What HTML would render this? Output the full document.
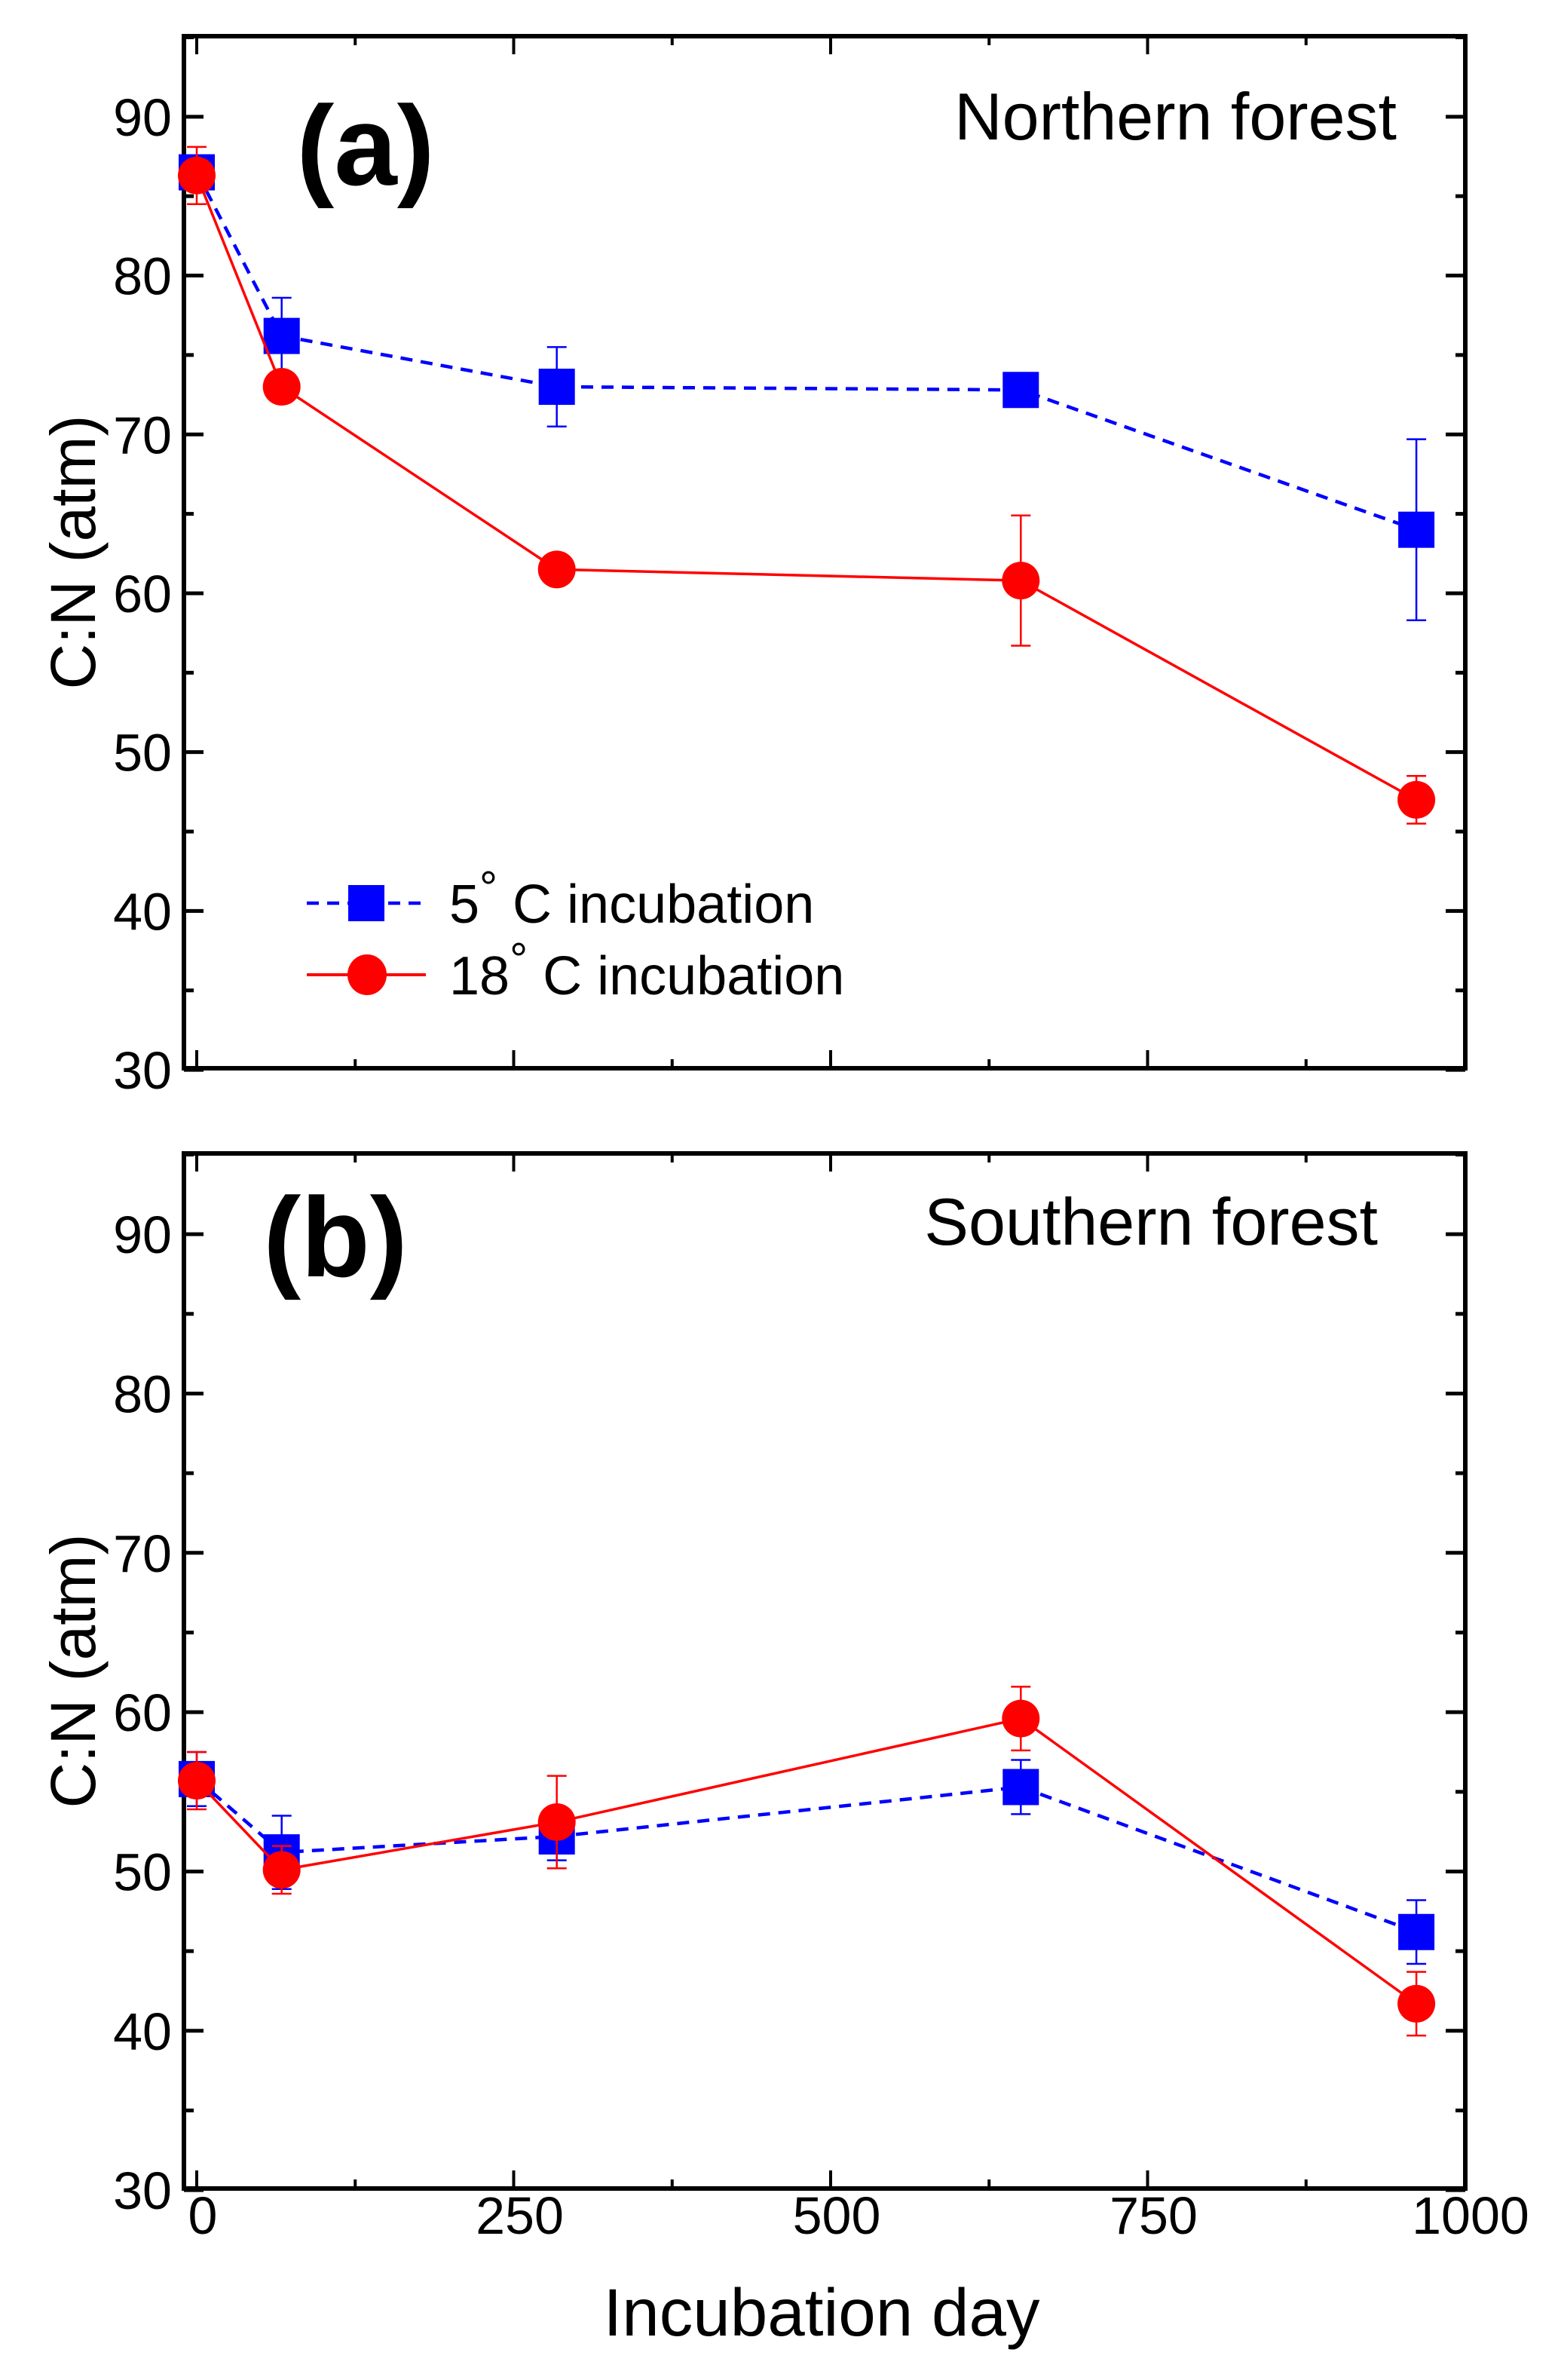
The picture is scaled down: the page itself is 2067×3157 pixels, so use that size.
<!DOCTYPE html>
<html><head><meta charset="utf-8"><style>
html,body{margin:0;padding:0;background:#fff;}
svg{display:block;font-family:"Liberation Sans",Arial,sans-serif;}
</style></head><body>
<svg id="chart" width="2067" height="3157" viewBox="0 0 2067 3157" xmlns="http://www.w3.org/2000/svg">
<g id="root"></g>
</svg>
<script>
const days = [0, 67, 284, 650, 962];
const northCold = [86.5, 76.2, 73.0, 72.8, 64.0];
const northColdErr = [0.8, 2.4, 2.5, 0.5, 5.7];
const northWarm = [86.3, 73.0, 61.5, 60.8, 47.0];
const northWarmErr = [1.8, 0.5, 0.5, 4.1, 1.5];
const southCold = [55.8, 51.2, 52.2, 55.3, 46.2];
const southColdErr = [1.7, 2.3, 1.5, 1.7, 2.0];
const southWarm = [55.7, 50.1, 53.1, 59.6, 41.7];
const southWarmErr = [1.8, 1.5, 2.9, 2.0, 2.0];
const yTicks = [30, 40, 50, 60, 70, 80, 90];
const xTicks = [0, 250, 500, 750, 1000];
const xMinor = [125, 375, 625, 875];

const NS = "http://www.w3.org/2000/svg";
const root = document.getElementById("root");
function el(tag, attrs, parent){
  const e = document.createElementNS(NS, tag);
  for (const k in attrs) e.setAttribute(k, attrs[k]);
  (parent||root).appendChild(e);
  return e;
}
const L = 244, R = 1944;
const xS = d => 261 + d * 1.682;
function makeY(top, bottom){ return v => bottom - (v - 30.1) / (95.07 - 30.1) * (bottom - top); }

function panel(top, bottom, name, label, title, cold, coldErr, warm, warmErr, labX, titleX, titleY, labY){
  const g = el("g", {});
  
  
  const y = makeY(top, bottom);
  for (let v = 30; v <= 95; v += 5){
    const major = v % 10 === 0;
    const len = major ? 26 : 13;
    const yy = y(v);
    el("line", {x1:L, x2:L+len, y1:yy, y2:yy, stroke:"#000","stroke-width":5}, g);
    el("line", {x1:R-len, x2:R, y1:yy, y2:yy, stroke:"#000","stroke-width":5}, g);
  }
  xTicks.forEach(d => {
    el("line", {x1:xS(d), x2:xS(d), y1:top, y2:top+24, stroke:"#000","stroke-width":4}, g);
    el("line", {x1:xS(d), x2:xS(d), y1:bottom, y2:bottom-24, stroke:"#000","stroke-width":4}, g);
  });
  xMinor.forEach(d => {
    el("line", {x1:xS(d), x2:xS(d), y1:top, y2:top+12, stroke:"#000","stroke-width":4}, g);
    el("line", {x1:xS(d), x2:xS(d), y1:bottom, y2:bottom-12, stroke:"#000","stroke-width":4}, g);
  });
  const frame = el("rect", {x:L, y:top, width:R-L, height:bottom-top, fill:"none", stroke:"#000","stroke-width":6}, g);
  
  
  yTicks.forEach(v => {
    const t = el("text", {x:L-16, y:y(v)+25, "text-anchor":"end","font-size":70}, g);
    t.textContent = v;
    
    
  });
  const yl = el("text", {x:0, y:0, transform:`translate(126,${(top+bottom)/2}) rotate(-90)`, "text-anchor":"middle","font-size":84}, g);
  yl.textContent = "C:N (atm)";
  
  
  const pl = el("text", {x:labX, y:labY, "text-anchor":"middle","font-size":150,"font-weight":"bold"}, g);
  pl.textContent = label;
  
  
  const tt = el("text", {x:titleX, y:titleY, "text-anchor":"end","font-size":88}, g);
  tt.textContent = title;
  
  

  function series(vals, errs, color, dashed, shape, sname){
    const sg = el("g", {}, g);
    
    
    const pts = days.map((d,i) => xS(d)+","+y(vals[i])).join(" ");
    el("polyline", {points:pts, fill:"none", stroke:color, "stroke-width":dashed?4.5:3.5, "stroke-dasharray":dashed?"16 11":"none"}, sg);
    days.forEach((d,i) => {
      const cx = xS(d), cy = y(vals[i]);
      const y1 = y(vals[i]+errs[i]), y2 = y(vals[i]-errs[i]);
      el("line", {x1:cx, x2:cx, y1:y1, y2:y2, stroke:color, "stroke-width":2.5}, sg);
      el("line", {x1:cx-13, x2:cx+13, y1:y1, y2:y1, stroke:color, "stroke-width":2.5}, sg);
      el("line", {x1:cx-13, x2:cx+13, y1:y2, y2:y2, stroke:color, "stroke-width":2.5}, sg);
      let m;
      if (shape === "sq") m = el("rect", {x:cx-24, y:cy-24, width:48, height:48, fill:color}, sg);
      else m = el("ellipse", {cx:cx, cy:cy, rx:25, ry:25, fill:color}, sg);
      
      
    });
  }
  series(cold, coldErr, "#0000ff", true, "sq", "series-5c");
  series(warm, warmErr, "#ff0000", false, "ci", "series-18c");
  return g;
}
panel(48, 1417, "panel-a-northern", "(a)", "Northern forest", northCold, northColdErr, northWarm, northWarmErr, 485, 1853, 185, 245);
panel(1530, 2903, "panel-b-southern", "(b)", "Southern forest", southCold, southColdErr, southWarm, southWarmErr, 445, 1828, 1651, 1693);

const lg = el("g", {});


el("line", {x1:407, x2:565, y1:1198, y2:1198, stroke:"#0000ff","stroke-width":4.5,"stroke-dasharray":"16 11"}, lg);
el("rect", {x:462, y:1174, width:48, height:48, fill:"#0000ff"}, lg);
const t1 = el("text", {x:596, y:1224, "font-size":72}, lg);
t1.innerHTML = '5<tspan dy="-26" font-size="60">°</tspan><tspan dy="26"> C incubation</tspan>';


el("line", {x1:407, x2:565, y1:1293, y2:1293, stroke:"#ff0000","stroke-width":4}, lg);
el("ellipse", {cx:487, cy:1293, rx:26, ry:27, fill:"#ff0000"}, lg);
const t2 = el("text", {x:596, y:1319, "font-size":72}, lg);
t2.innerHTML = '18<tspan dy="-26" font-size="60">°</tspan><tspan dy="26"> C incubation</tspan>';



xTicks.forEach(d => {
  const t = el("text", {x:xS(d)+8, y:2963, "text-anchor":"middle","font-size":70});
  t.textContent = d;
  
  
});
const xl = el("text", {x:1090, y:3098, "text-anchor":"middle","font-size":89});
xl.textContent = "Incubation day";


</script>
</body></html>
